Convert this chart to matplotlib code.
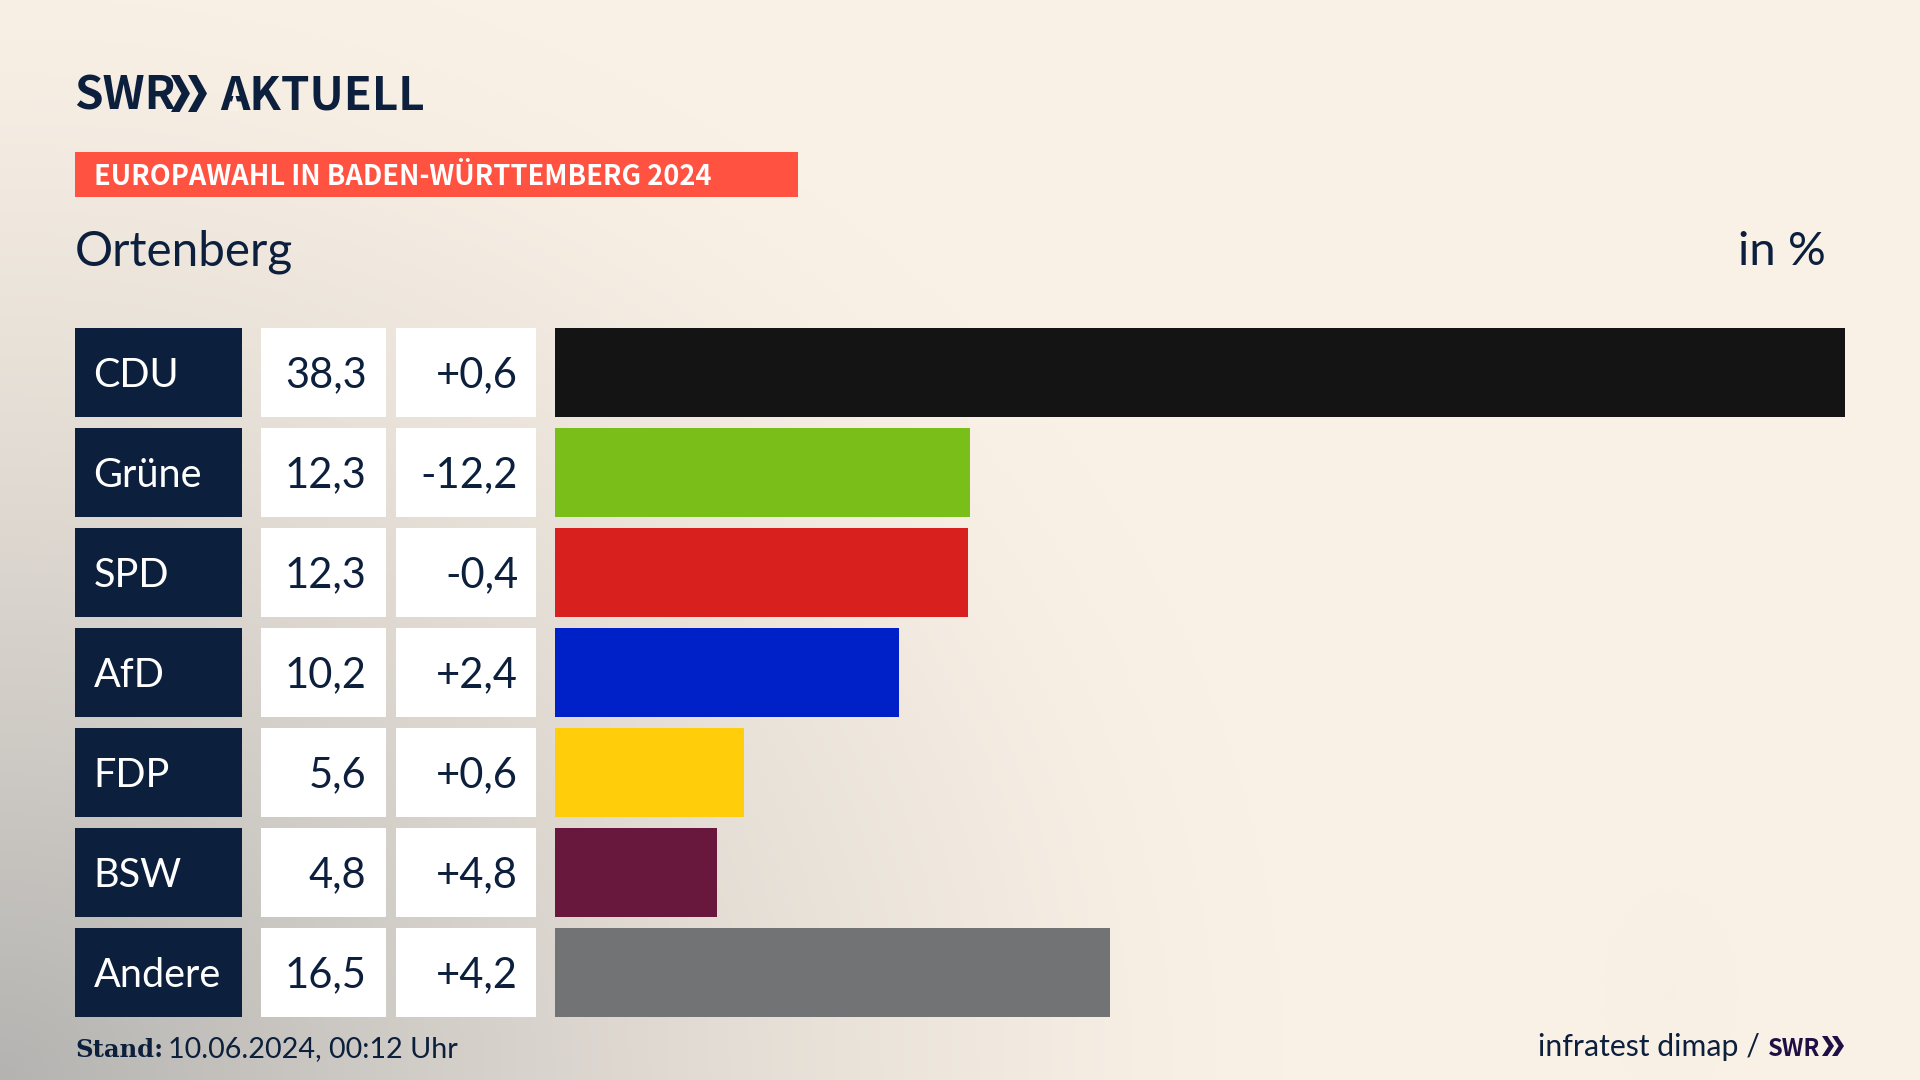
"""Europawahl chart, SWR Aktuell style."""

import matplotlib
matplotlib.use("Agg")
import matplotlib.pyplot as plt
import numpy as np
from matplotlib.patches import Polygon, Rectangle

plt.rcParams["font.family"] = ["Lato", "Noto Sans", "DejaVu Sans"]

parties = ["CDU", "Grüne", "SPD", "AfD", "FDP", "BSW", "Andere"]
shares = [38.3, 12.32, 12.26, 10.22, 5.6, 4.8, 16.48]
share_labels = ["38,3", "12,3", "12,3", "10,2", "5,6", "4,8", "16,5"]
change_labels = ["+0,6", "-12,2", "-0,4", "+2,4", "+0,6", "+4,8", "+4,2"]
party_colors = ["#141414", "#7abf19", "#d8201e", "#0021c8", "#ffcd0a", "#67183c", "#717374"]

NAVY = "#0c1f3d"
CREAM = np.array([250, 241, 230]) / 255
GREY = np.array([180, 179, 177]) / 255
LOGO_FONT = ["Noto Sans CJK SC", "Lato"]

W, H = 1920, 1080
fig = plt.figure(figsize=(W / 100, H / 100), dpi=100)

# pixel layer: background, header, footer
ax_bg = fig.add_axes([0, 0, 1, 1])
ax_bg.set_xlim(0, W)
ax_bg.set_ylim(H, 0)
ax_bg.axis("off")

# grey glow from the lower left corner, plus the faint smudge lower right
xx, yy = np.meshgrid(np.linspace(0, 1, 480), np.linspace(0, 1, 270))
dist = np.sqrt((xx / 0.67) ** 2 + ((1 - yy) / 1.06) ** 2)
glow = np.clip(1 - dist, 0, 1) ** 1.35
smudge = 0.025 * np.exp(-(((xx * W - 1672) / 12) ** 2 + ((yy * H - 995) / 18) ** 2))
glow = (glow + smudge)[..., None]
ax_bg.imshow(CREAM * (1 - glow) + GREY * glow, extent=(0, W, H, 0), aspect="auto", zorder=0)


# logo
def chevrons(ax, x, top, h, w, gap, color):
    for i in range(2):
        x0 = x + i * gap
        pts = [(x0, top), (x0 + w * 0.45, top), (x0 + w, top + h / 2),
               (x0 + w * 0.45, top + h), (x0, top + h), (x0 + w * 0.55, top + h / 2)]
        ax.add_patch(Polygon(pts, closed=True, color=color, lw=0))


ax_bg.text(74, 110, "SWR", fontsize=33, fontweight="bold", color=NAVY, va="baseline",
           family=LOGO_FONT)
chevrons(ax_bg, 171, 75, 37, 19, 17, NAVY)
ax_bg.text(220, 110, "AKTUELL", fontsize=33, fontweight="bold", color=NAVY, va="baseline",
           family=LOGO_FONT)
# the logo A has no crossbar
ax_bg.add_patch(Polygon([(229.5, 111), (239.5, 111), (234.5, 92)], closed=True,
                        color="#f9f0e6", lw=0, zorder=5))

# banner and heading
ax_bg.add_patch(Rectangle((75, 152), 723, 45, color="#ff5240", lw=0))
ax_bg.text(94, 185, "EUROPAWAHL IN BADEN-WÜRTTEMBERG 2024", fontsize=19.6, fontweight="bold",
           color="white", va="baseline", family=LOGO_FONT)
ax_bg.text(75, 265, "Ortenberg", fontsize=34.3, color=NAVY, va="baseline")
ax_bg.text(1826, 265, "in %", fontsize=34, color=NAVY, va="baseline", ha="right")

# footer
ax_bg.text(75, 1057, "Stand:", fontsize=17.5, fontweight="bold", color=NAVY, va="baseline",
           family=["DejaVu Serif"])
ax_bg.text(168, 1057, "10.06.2024, 00:12 Uhr", fontsize=20.7, color=NAVY, va="baseline")
ax_bg.text(1760, 1056, "infratest dimap /", fontsize=21.8, color=NAVY, va="baseline", ha="right")
ax_bg.text(1768, 1056, "SWR", fontsize=17, fontweight="bold", color="#200f45", va="baseline",
           family=LOGO_FONT)
chevrons(ax_bg, 1822, 1036, 20, 12, 10, "#200f45")

rows = np.arange(len(parties))
row_top, row_bottom = 328, 1016.5

# table columns, x in pixels, y in rows
ax_table = fig.add_axes([0, 1 - row_bottom / H, 1, (row_bottom - row_top) / H])
ax_table.set_xlim(0, W)
ax_table.set_ylim(6.4425, -0.4425)
ax_table.axis("off")
ax_table.barh(rows, 167, left=75, height=0.885, color=NAVY)
ax_table.barh(rows, 125, left=261, height=0.885, color="white")
ax_table.barh(rows, 140, left=396, height=0.885, color="white")
for r, party, share, change in zip(rows, parties, share_labels, change_labels):
    ax_table.text(93.5, r, party, fontsize=28.5, color="white", va="center_baseline")
    ax_table.text(366.5, r - 0.01, share, fontsize=30, color=NAVY, va="center_baseline", ha="right")
    ax_table.text(518, r - 0.01, change, fontsize=30, color=NAVY, va="center_baseline", ha="right")

# bars
ax_bar = fig.add_axes([555 / W, 1 - row_bottom / H, 1290 / W, (row_bottom - row_top) / H])
ax_bar.set_xlim(0, max(shares))
ax_bar.set_ylim(6.4425, -0.4425)
ax_bar.axis("off")
ax_bar.barh(rows, shares, height=0.885, color=party_colors)

fig.savefig("out.png", dpi=100)
plt.close(fig)
